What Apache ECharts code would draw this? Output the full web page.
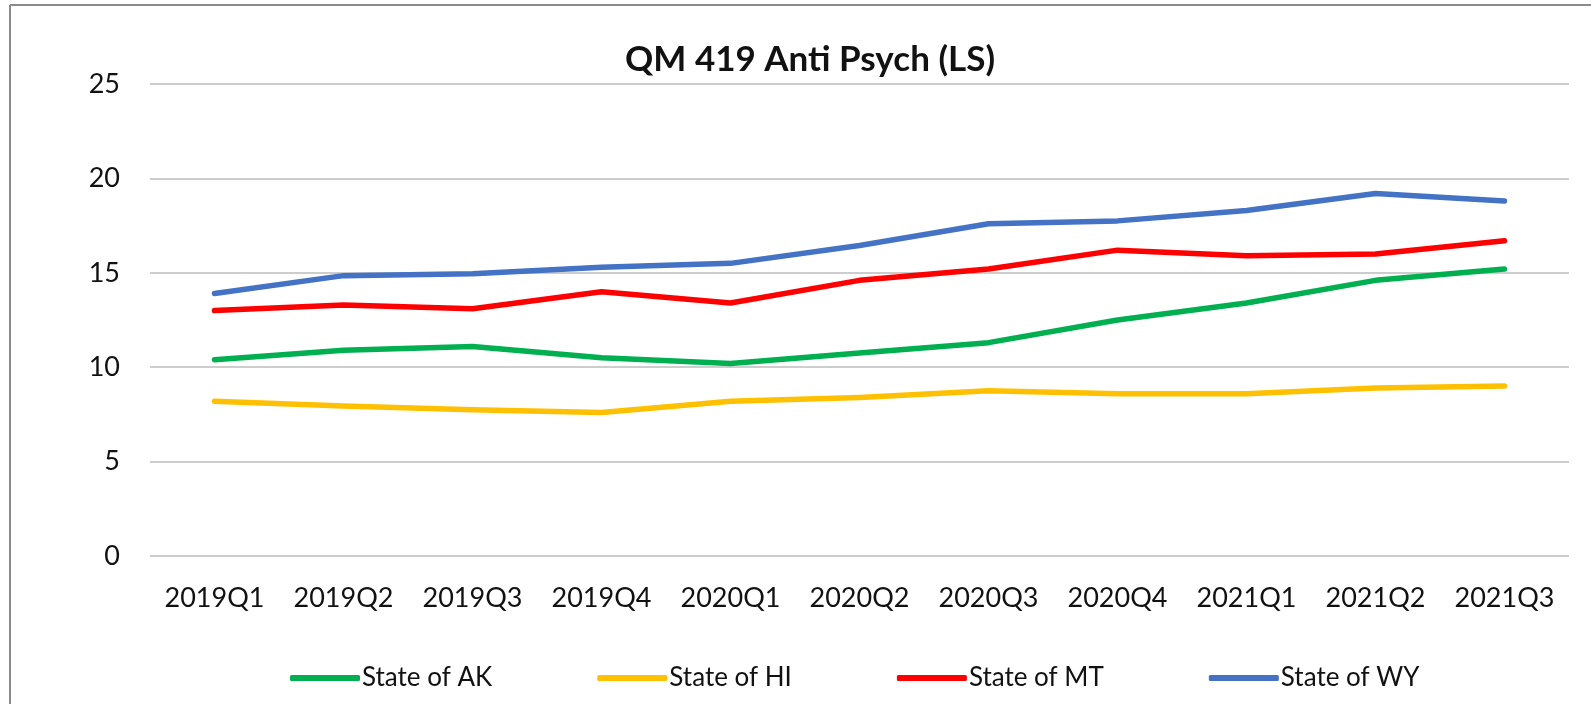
<!DOCTYPE html>
<html>
<head>
<meta charset="utf-8">
<script src="https://cdn.jsdelivr.net/npm/echarts@6/dist/echarts.min.js"></script>
<style>
  html, body { margin: 0; padding: 0; background: #fff; }
  #chart { width: 1591px; height: 704px; }
</style>
</head>
<body>
<div id="chart"></div>
<script>
const quarters = ['2019Q1','2019Q2','2019Q3','2019Q4','2020Q1','2020Q2','2020Q3','2020Q4','2021Q1','2021Q2','2021Q3'];
const stateAK = [10.4, 10.9, 11.1, 10.5, 10.2, 10.75, 11.3, 12.5, 13.4, 14.6, 15.2];
const stateHI = [8.2, 7.95, 7.75, 7.6, 8.2, 8.4, 8.75, 8.6, 8.6, 8.9, 9.0];
const stateMT = [13.0, 13.3, 13.1, 14.0, 13.4, 14.6, 15.2, 16.2, 15.9, 16.0, 16.7];
const stateWY = [13.9, 14.85, 14.95, 15.3, 15.5, 16.45, 17.6, 17.75, 18.3, 19.2, 18.8];

const font = 'Lato';

const makeLine = (name, data, color) => ({
    name: name,
    type: 'line',
    data: data,
    showSymbol: false,
    symbol: 'none',
    lineStyle: {color: color, width: 5.5, cap: 'round', join: 'round'},
    itemStyle: {color: color}
});

const option = {
    animation: false,
    backgroundColor: '#fff',
    title: {
        text: 'QM 419 Anti Psych (LS)',
        left: 805,
        textAlign: 'center',
        top: 37,
        textStyle: {fontFamily: font, fontSize: 35, fontWeight: 'bold', color: '#111'}
    },
    grid: {left: 150, right: 22, top: 84, bottom: 148},
    xAxis: {
        type: 'category',
        data: quarters,
        boundaryGap: true,
        axisLine: {show: false},
        axisTick: {show: false},
        axisLabel: {interval: 0, fontFamily: font, fontSize: 27, color: '#111', margin: 29}
    },
    yAxis: {
        type: 'value',
        min: 0,
        max: 25,
        interval: 5,
        axisLine: {show: false},
        axisTick: {show: false},
        axisLabel: {fontFamily: font, fontSize: 27, color: '#111', margin: 30},
        splitLine: {lineStyle: {color: '#bdbdbd', width: 1.5}}
    },
    legend: {
        left: 285,
        top: 660,
        itemWidth: 70,
        itemHeight: 6,
        itemGap: 105,
        icon: 'roundRect',
        textStyle: {fontFamily: font, fontSize: 26, color: '#111', padding: [0, 0, 0, -3]}
    },
    graphic: [
        {type: 'line', shape: {x1: 10, y1: 5, x2: 1591, y2: 5}, style: {stroke: '#8a8a8a', lineWidth: 2}},
        {type: 'line', shape: {x1: 10, y1: 5, x2: 10, y2: 704}, style: {stroke: '#8a8a8a', lineWidth: 2}}
    ],
    series: [
        makeLine('State of AK', stateAK, '#00B050'),
        makeLine('State of HI', stateHI, '#FFC000'),
        makeLine('State of MT', stateMT, '#FF0000'),
        makeLine('State of WY', stateWY, '#4472C4')
    ]
};

const myChart = echarts.init(document.getElementById('chart'));
myChart.setOption(option);
window.addEventListener('resize', () => {
    myChart.resize();
});
</script>
</body>
</html>
